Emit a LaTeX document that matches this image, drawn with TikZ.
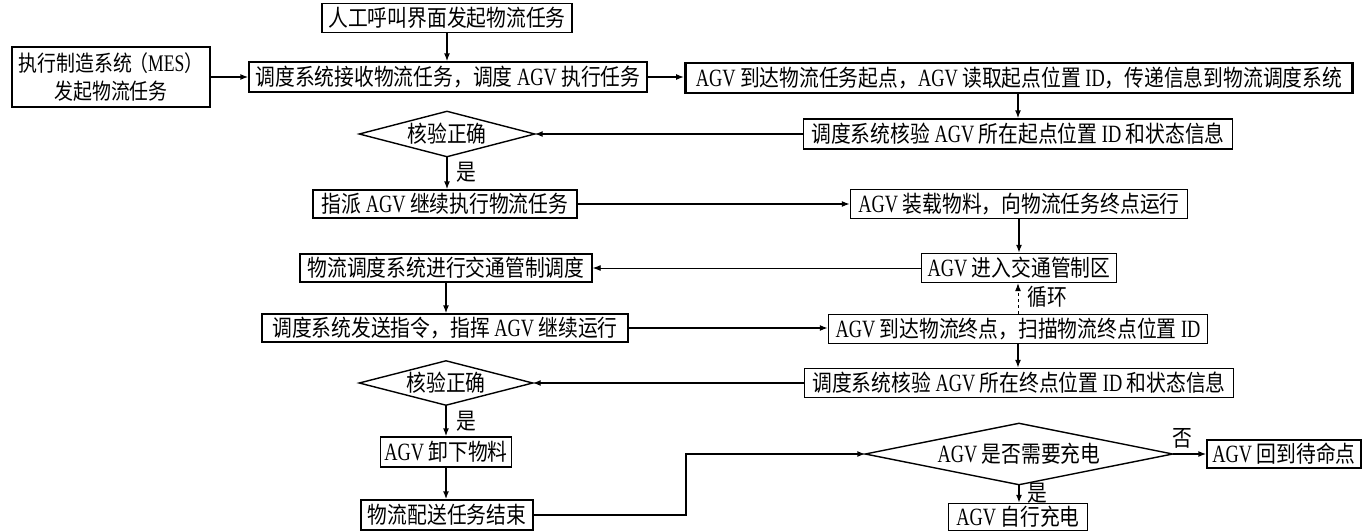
\documentclass[tikz,border=0pt]{standalone}
\usepackage{fontspec}
\setmainfont{Liberation Serif}[Scale=1.08,FakeStretch=0.74]
\newfontfamily\cjk{Noto Sans CJK SC}[FakeStretch=0.86]
\usetikzlibrary{arrows.meta}
\newcommand\en[1]{{\rmfamily #1}}
\begin{document}
\begin{tikzpicture}[x=1pt,y=-1pt,
  font=\cjk\fontsize{23}{28}\selectfont,
  box/.style={draw,line width=1.4pt,inner sep=0pt,minimum height=29pt},
  dia/.style={inner sep=0pt},
  arr/.style={line width=1.4pt,-{Latex[length=8pt,width=6pt]}},
  lbl/.style={inner sep=0pt}]
\useasboundingbox (0,0) rectangle (1365,531);
\fill[white] (0,0) rectangle (1365,531);
% nodes
\node[box,minimum width=250pt] (n1) at (447,18) {人工呼叫界面发起物流任务};
\node[box,minimum width=198pt,minimum height=60pt,align=center,font=\cjk\fontsize{22}{28}\selectfont] (mes) at (111,77) {执行制造系统\hspace{-3pt}（\en{MES}）\hspace{-3pt}\\发起物流任务};
\node[box,minimum width=398pt,minimum height=30pt] (recv) at (448,77) {调度系统接收物流任务，调度 \en{AGV} 执行任务};
\node[box,line width=2.8pt,minimum width=667pt,minimum height=30pt] (arrv) at (1019,78) {\en{AGV} 到达物流任务起点，\en{AGV} 读取起点位置 \en{ID}，传递信息到物流调度系统};
\node[box,minimum width=429pt,minimum height=30pt] (chk1) at (1018,134) {调度系统核验 \en{AGV} 所在起点位置 \en{ID} 和状态信息};
\node[dia,minimum width=175pt,minimum height=45pt] (d1) at (447,134) {核验正确};
\node[box,minimum width=264pt,minimum height=28pt] (assign) at (445,204) {指派 \en{AGV} 继续执行物流任务};
\node[box,minimum width=337pt] (load) at (1019,204) {\en{AGV} 装载物料，向物流任务终点运行};
\node[box,minimum width=292pt,minimum height=28pt] (traffic) at (446,268) {物流调度系统进行交通管制调度};
\node[box,minimum width=195pt] (enter) at (1019,268) {\en{AGV} 进入交通管制区};
\node[box,minimum width=366pt,minimum height=28pt] (cmd) at (445,328) {调度系统发送指令，指挥 \en{AGV} 继续运行};
\node[box,minimum width=379pt] (arr2) at (1018,329) {\en{AGV} 到达物流终点，扫描物流终点位置 \en{ID}};
\node[box,minimum width=429pt] (chk2) at (1019,383) {调度系统核验 \en{AGV} 所在终点位置 \en{ID} 和状态信息};
\node[dia,minimum width=173pt,minimum height=44pt] (d2) at (446,383) {核验正确};
\node[box,minimum width=131pt,minimum height=30pt] (unload) at (446,452) {\en{AGV} 卸下物料};
\node[box,minimum width=172pt,minimum height=30pt] (endn) at (447,515) {物流配送任务结束};
\node[dia,minimum width=307pt,minimum height=61pt] (d3) at (1019,454) {\en{AGV} 是否需要充电};
\node[box,minimum width=154pt,minimum height=28pt] (back) at (1284,454) {\en{AGV} 回到待命点};
\node[box,minimum width=139pt,minimum height=27pt] (charge) at (1018,517) {\en{AGV} 自行充电};
% diamonds
\foreach \d in {d1,d2,d3}
  \draw[line width=1.4pt,line join=miter] (\d.west) -- (\d.north) -- (\d.east) -- (\d.south) -- cycle;
% labels
\node[lbl] (y1) at (466,172) {是};
\node[lbl] (y2) at (466,421) {是};
\node[lbl] (loop) at (1047,297) {循环};
\node[lbl] (no) at (1182,438) {否};
\node[lbl] (y3) at (1037,493) {是};
% connectors
\draw[arr] (n1.south) -- (n1.south |- recv.north);
\draw[arr] (mes.east) -- (mes.east -| recv.west);
\draw[arr] (recv.east) -- (recv.east -| arrv.west);
\draw[arr] (arrv.south -| chk1.north) -- (chk1.north);
\draw[arr] (chk1.west) -- (d1.east);
\draw[arr] (d1.south) -- (d1.south |- assign.north);
\draw[arr] (assign.east) -- (assign.east -| load.west);
\draw[arr] (load.south) -- (load.south |- enter.north);
\draw[arr,line width=0.9pt] (enter.west) -- (enter.west -| traffic.east);
\draw[arr] (traffic.south) -- (traffic.south |- cmd.north);
\draw[arr] (cmd.east) -- (cmd.east -| arr2.west);
\draw[arr,line width=1pt,dashed] (arr2.north) -- (arr2.north |- enter.south);
\draw[arr] (arr2.south) -- (arr2.south |- chk2.north);
\draw[arr] (chk2.west) -- (d2.east);
\draw[arr] (d2.south) -- (d2.south |- unload.north);
\draw[arr,line width=2pt] (unload.south) -- (unload.south |- endn.north);
\coordinate (elb) at (686,454);
\draw[arr] (endn.east) -| (elb) -- (d3.west);
\draw[arr] (d3.east) -- (back.west);
\draw[arr] (d3.south) -- (d3.south |- charge.north);
\end{tikzpicture}
\end{document}
